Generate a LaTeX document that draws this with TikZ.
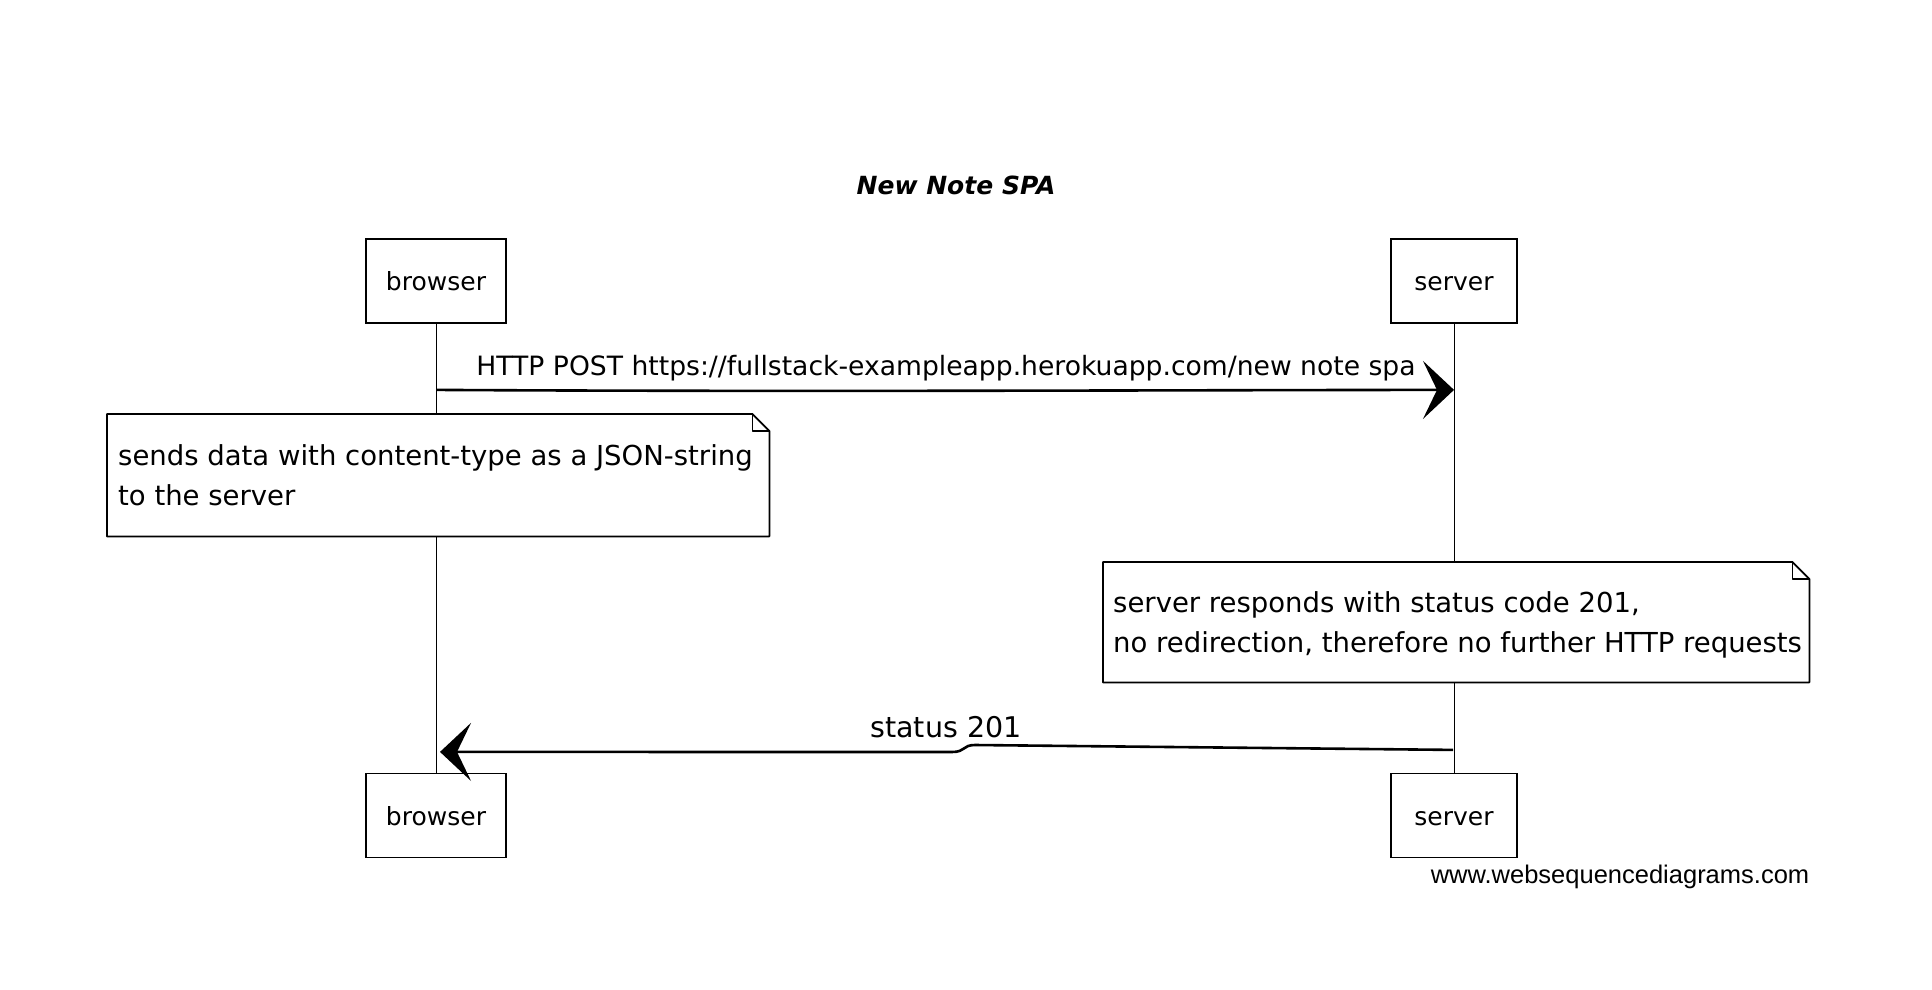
\documentclass[tikz,border=0pt]{standalone}
\usepackage{fontspec}
\setmainfont{DejaVu Sans}
\newfontfamily\wmfont{Liberation Sans}
\usetikzlibrary{arrows.meta}
\begin{document}
\begin{tikzpicture}[x=1pt,y=-1pt,
  party/.style={draw, line width=1.8pt, fill=white, minimum height=84pt, inner sep=0pt,
    text height=19pt, text depth=0pt, font=\fontsize{25}{30}\selectfont},
  lifeline/.style={line width=1pt},
  msg/.style={line width=2.6pt, -{Stealth[length=31pt,width=58pt,inset=14pt]}},
  lbl/.style={inner sep=0pt, anchor=base, font=\fontsize{26.6}{32}\selectfont},
  lbltwo/.style={inner sep=0pt, anchor=base, font=\fontsize{28.5}{32}\selectfont},
  notetxt/.style={inner sep=0pt, anchor=base west, font=\fontsize{27.5}{32}\selectfont},
  notebg/.style={inner sep=0pt, anchor=north west},
  noteline/.style={line width=1.8pt, fill=white, line join=round},
  fold/.style={line width=1.2pt, line join=round},
  titletxt/.style={inner sep=0pt, anchor=base, font=\fontsize{25}{30}\selectfont\bfseries\itshape},
  wm/.style={inner sep=0pt, anchor=base, font=\wmfont\fontsize{25.5}{30}\selectfont}]
\useasboundingbox[fill=white] (0,0) rectangle (1932,990);

% title
\node[titletxt] (title) at (956,194) {New Note SPA};

% participants
\node[party, minimum width=140pt] (b1) at (436,281) {browser};
\node[party, minimum width=126pt] (s1) at (1454,281) {server};
\node[party, minimum width=140pt] (b2) at (436,815.5) {browser};
\node[party, minimum width=126pt] (s2) at (1454,815.5) {server};

% lifelines
\draw[lifeline] (b1.south) -- (b2.north);
\draw[lifeline] (s1.south) -- (s2.north);

% message 1
\path (b1.south) ++(1,66) coordinate (m1a);
\path (s1.south) ++(0,66) coordinate (m1b);
\draw[msg] (m1a) .. controls (800,392) and (1200,390) .. (m1b);
\node[lbl] (l1) at (946,375) {HTTP POST https://fullstack-exampleapp.herokuapp.com/new note spa};

% note 1
\node[notebg, minimum width=662pt, minimum height=122pt] (n1) at (107,414) {};
\draw[noteline] (n1.south west) -- (n1.north west) -- ([xshift=-17pt]n1.north east)
  -- ([yshift=-17pt]n1.north east) -- (n1.south east) -- cycle;
\draw[fold] ([xshift=-17pt]n1.north east) -- ([xshift=-17pt,yshift=-17pt]n1.north east)
  -- ([yshift=-17pt]n1.north east);
\node[notetxt] (n1a) at (118,465) {sends data with content-type as a JSON-string};
\node[notetxt] (n1b) at (118,505) {to the server};

% note 2
\node[notebg, minimum width=706pt, minimum height=120pt] (n2) at (1103,562) {};
\draw[noteline] (n2.south west) -- (n2.north west) -- ([xshift=-17pt]n2.north east)
  -- ([yshift=-17pt]n2.north east) -- (n2.south east) -- cycle;
\draw[fold] ([xshift=-17pt]n2.north east) -- ([xshift=-17pt,yshift=-17pt]n2.north east)
  -- ([yshift=-17pt]n2.north east);
\node[notetxt] (n2a) at (1113,612) {server responds with status code 201,};
\node[notetxt] (n2b) at (1113,652) {no redirection, therefore no further HTTP requests};

% message 2
\path (s1.south) ++(-1,426) coordinate (m2a);
\path (b1.south) ++(4,428) coordinate (m2b);
\draw[msg] (m2a) -- (975,745) .. controls (962,745) and (966,752) .. (952,752) -- (m2b);
\node[lbltwo] (l2) at (946,737) {status 201};

% watermark
\node[wm] (wmk) at (1620,883) {www.websequencediagrams.com};
\end{tikzpicture}
\end{document}
